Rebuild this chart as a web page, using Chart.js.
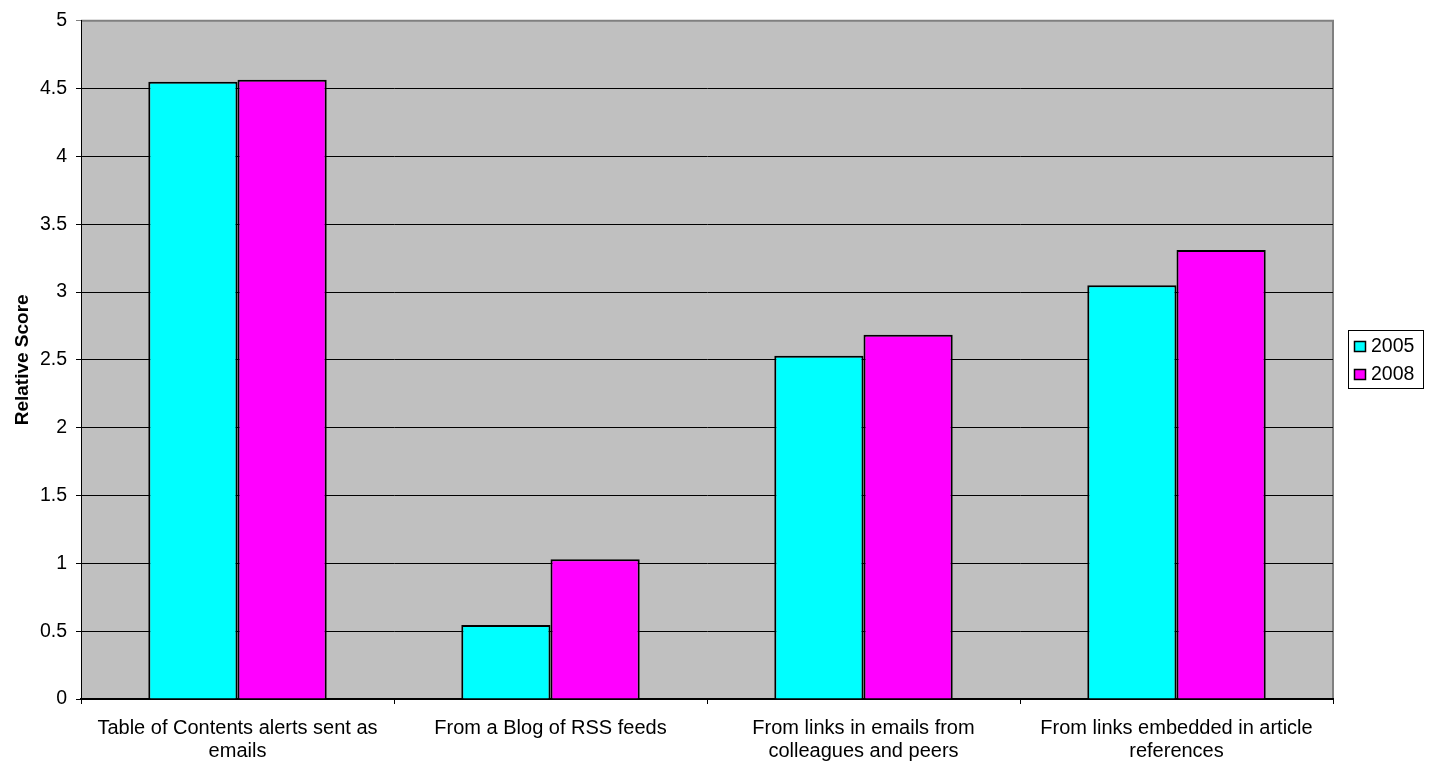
<!DOCTYPE html>
<html>
<head>
<meta charset="utf-8">
<title>Relative Score</title>
<script src="https://cdn.jsdelivr.net/npm/chart.js@4"></script>
<style>
    html, body { margin: 0; padding: 0; background: #fff; }
    #wrap { width: 1431px; height: 761px; }
</style>
</head>
<body>
<div id="wrap"><canvas id="myChart"></canvas></div>
<script>
const categories = [
    ['Table of Contents alerts sent as', 'emails'],
    ['From a Blog of RSS feeds'],
    ['From links in emails from', 'colleagues and peers'],
    ['From links embedded in article', 'references']
];
const years = ['2005', '2008'];
const scores2005 = [4.55, 0.545, 2.53, 3.05];
const scores2008 = [4.565, 1.03, 2.685, 3.31];
const yTicks = [0, 0.5, 1, 1.5, 2, 2.5, 3, 3.5, 4, 4.5, 5];

const FONT = 'Liberation Sans, Arial, sans-serif';

// grey plot area with its top/right border
const plotBackground = {
    id: 'plotBackground',
    beforeDraw(chart) {
        const { ctx, chartArea: a } = chart;
        ctx.save();
        ctx.fillStyle = '#c0c0c0';
        ctx.fillRect(a.left, a.top, a.right - a.left, a.bottom - a.top);
        ctx.strokeStyle = '#808080';
        ctx.lineWidth = 2;
        ctx.beginPath();
        ctx.moveTo(a.left, a.top);
        ctx.lineTo(a.right, a.top);
        ctx.lineTo(a.right, a.bottom);
        ctx.stroke();
        ctx.restore();
    }
};

// boxed legend to the right of the plot
const boxLegend = {
    id: 'boxLegend',
    afterDraw(chart) {
        const { ctx } = chart;
        const x = 1348, y = 330, w = 75, h = 58;
        ctx.save();
        ctx.strokeStyle = '#000';
        ctx.lineWidth = 1;
        ctx.strokeRect(x + 0.5, y + 0.5, w, h);
        ctx.font = '19.5px ' + FONT;
        ctx.textBaseline = 'alphabetic';
        chart.data.datasets.forEach((ds, i) => {
            const sy = y + 11 + i * 28;
            ctx.fillStyle = ds.backgroundColor;
            ctx.fillRect(x + 6, sy, 12, 11);
            ctx.lineWidth = 1.5;
            ctx.strokeRect(x + 6.5, sy + 0.5, 11, 10);
            ctx.fillStyle = '#000';
            ctx.fillText(ds.label, x + 23, sy + 11);
        });
        ctx.restore();
    }
};

new Chart(document.getElementById('myChart'), {
    type: 'bar',
    data: {
        labels: categories,
        datasets: [{
            label: years[0],
            data: scores2005,
            backgroundColor: '#00ffff',
            borderColor: '#000',
            borderWidth: 2
        }, {
            label: years[1],
            data: scores2008,
            backgroundColor: '#ff00ff',
            borderColor: '#000',
            borderWidth: 2
        }]
    },
    options: {
        responsive: true,
        maintainAspectRatio: false,
        animation: false,
        layout: {
            padding: { top: 20, right: 98, left: 0, bottom: 0 }
        },
        datasets: {
            bar: { categoryPercentage: 0.57, barPercentage: 1 }
        },
        plugins: {
            legend: { display: false },
            tooltip: { enabled: false }
        },
        scales: {
            x: {
                afterFit: (scale) => { scale.height = 62; },
                grid: {
                    offset: true,
                    drawOnChartArea: false,
                    tickLength: 5,
                    color: '#000'
                },
                border: { color: '#000', width: 2 },
                ticks: {
                    color: '#000',
                    font: { family: FONT, size: 20, lineHeight: 1.15 },
                    maxRotation: 0,
                    autoSkip: false,
                    padding: 13
                }
            },
            y: {
                min: 0,
                max: 5,
                afterFit: (scale) => { scale.width = 81; },
                afterBuildTicks: (scale) => {
                    scale.ticks = yTicks.map(v => ({ value: v }));
                },
                grid: {
                    color: (c) => c.tick && c.tick.value === 5 ? '#808080' : '#000',
                    lineWidth: 1,
                    tickLength: 5
                },
                border: { color: '#000', width: 1 },
                ticks: {
                    color: '#000',
                    font: { family: FONT, size: 19.5 },
                    padding: 9,
                    callback: (v) => String(v)
                },
                title: {
                    display: true,
                    text: 'Relative Score',
                    color: '#000',
                    font: { family: FONT, size: 19, weight: 'bold' },
                    padding: { top: 11, bottom: 0 }
                }
            }
        }
    },
    plugins: [plotBackground, boxLegend]
});
</script>
</body>
</html>
